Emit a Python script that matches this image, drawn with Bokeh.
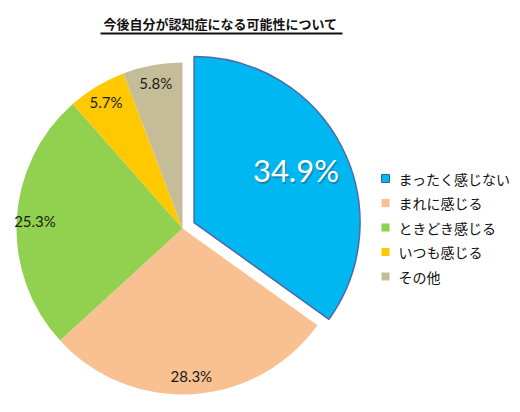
import numpy as np
from bokeh.plotting import figure
from bokeh.models import Range1d
from bokeh.core.properties import value
from bokeh.embed import file_html
from bokeh.resources import INLINE

# data
title = "今後自分が認知症になる可能性について"
categories = ["まったく感じない", "まれに感じる", "ときどき感じる", "いつも感じる", "その他"]
percents = [34.9, 28.3, 25.3, 5.7, 5.8]
colors = ["#00B7F1", "#F9C091", "#92D050", "#FFC800", "#C4BD97"]

W, H = 520, 412
p = figure(width=W, height=H, output_backend="svg", toolbar_location=None,
           x_range=Range1d(0, W), y_range=Range1d(0, H), min_border=0)
p.axis.visible = False
p.grid.visible = False
p.outline_line_color = None

# pie geometry
cx, cy, r = 182, 184, 166
explode = 13

frac = np.array(percents) / sum(percents)
ends = np.cumsum(frac)
starts = ends - frac
start_ang = np.pi / 2 - starts * 2 * np.pi
end_ang = np.pi / 2 - ends * 2 * np.pi
mid_ang = (start_ang + end_ang) / 2

for i in range(len(percents)):
    ox, oy = (explode * np.cos(mid_ang[i]), explode * np.sin(mid_ang[i])) if i == 0 else (0, 0)
    p.wedge(x=cx + ox, y=cy + oy, radius=r, start_angle=start_ang[i], end_angle=end_ang[i],
            direction="clock", fill_color=colors[i],
            line_color="#4A6AA8" if i == 0 else None, line_width=1.5)

    if i == 0:
        k = 0.69
        lx = cx + ox + k * r * np.cos(mid_ang[i])
        ly = cy + oy + k * r * np.sin(mid_ang[i])
        p.text(x=[lx + 1.5], y=[ly - 1.5], text=["%.1f%%" % percents[i]], text_align="center",
               text_baseline="middle", text_font=value("Lato"), text_font_size="31px",
               text_color="#333333", text_alpha=0.35)
        p.text(x=[lx], y=[ly], text=["%.1f%%" % percents[i]], text_align="center",
               text_baseline="middle", text_font=value("Lato"), text_font_size="31px",
               text_color="white")
    else:
        k = 0.89
        lx = cx + k * r * np.cos(mid_ang[i])
        ly = cy + k * r * np.sin(mid_ang[i])
        p.text(x=[lx], y=[ly], text=["%.1f%%" % percents[i]], text_align="center",
               text_baseline="middle", text_font=value("Lato"), text_font_size="15px",
               text_color="#1a1a1a")

# title with underline
p.text(x=[220], y=[389], text=[title], text_align="center", text_baseline="middle",
       text_font=value("Noto Sans CJK JP"), text_font_size="13px", text_font_style="bold",
       text_color="#111111")
p.line(x=[100, 342], y=[379, 379], line_color="#111111", line_width=2)

# legend
lx0, ly0, step = 385, 234, 24.5
for i, cat in enumerate(categories):
    y = ly0 - i * step
    p.scatter(x=[lx0], y=[y], marker="square", size=8, fill_color=colors[i],
              line_color="#3A5FA0" if i == 0 else None, line_width=1)
    p.text(x=[lx0 + 13], y=[y], text=[cat], text_align="left", text_baseline="middle",
           text_font=value("Noto Sans CJK JP"), text_font_size="14px", text_color="#111111")

open("out.html", "w").write(file_html(p, INLINE))
